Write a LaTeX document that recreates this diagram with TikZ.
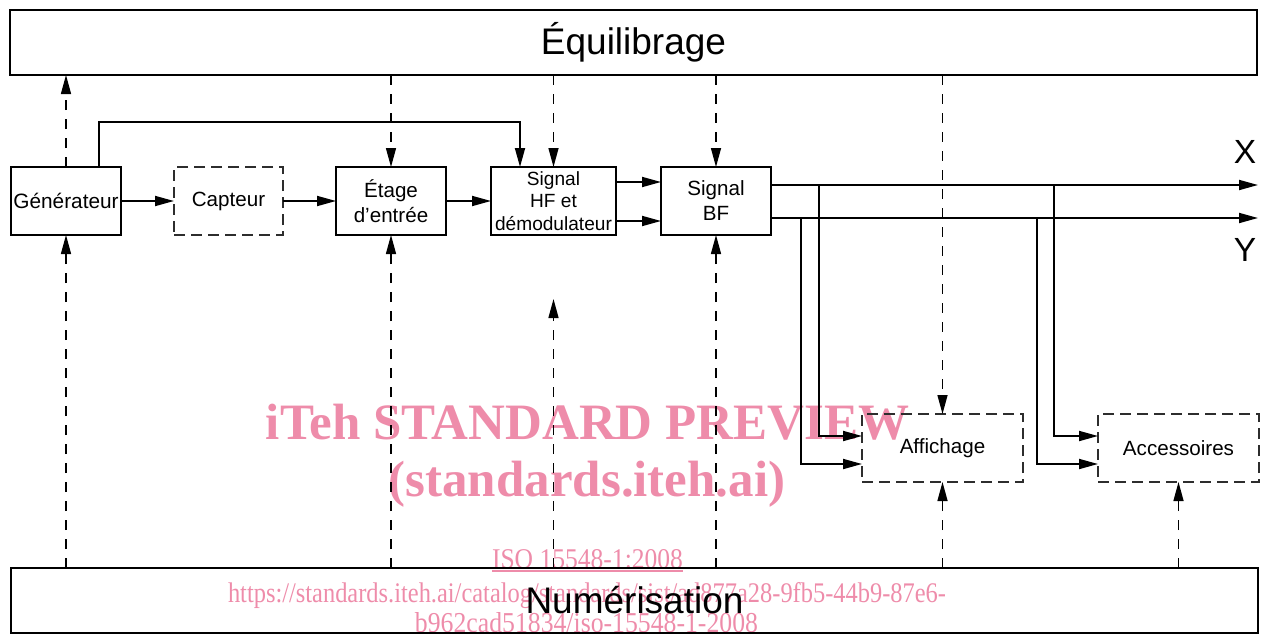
\documentclass[tikz,border=0pt]{standalone}
\usepackage{fontspec}
\setmainfont{Liberation Sans}
\newfontfamily\wmfont{Liberation Serif}
\usetikzlibrary{arrows.meta}
\definecolor{wmpink}{RGB}{238,140,170}
\definecolor{dgray}{RGB}{45,45,45}
\tikzset{
  blk/.style={draw, line width=2.4pt, minimum width=110pt, minimum height=68pt, inner sep=0pt, outer sep=0pt, align=center, font=\fontsize{20.6}{25}\selectfont},
  dblk/.style={blk, draw=dgray, line width=1.4pt, dash pattern=on 11pt off 6pt},
  bigbox/.style={draw, line width=2.5pt, minimum width=1247pt, minimum height=65pt, inner sep=0pt, outer sep=0pt},
  sarrow/.style={line width=1.8pt, -{Triangle[length=19pt,width=10pt]}},
  darrow/.style={line width=1.4pt, dash pattern=on 10pt off 9pt, -{Triangle[length=19pt,width=10pt]}},
  wm/.style={text=wmpink, inner sep=0pt, font=\wmfont\bfseries\fontsize{51}{51}\selectfont},
  wmsmall/.style={text=wmpink, inner sep=0pt, font=\wmfont\fontsize{26}{26}\selectfont},
  lbl/.style={inner sep=0pt, font=\fontsize{33.5}{40}\selectfont}
}
\begin{document}
\begin{tikzpicture}[x=1pt,y=-1pt]
\useasboundingbox (0,0) rectangle (1264,635);
% watermark
\node[wm, anchor=base] (wm1) at (587.5,439) {iTeh STANDARD PREVIEW};
\node[wm, anchor=base] (wm2) at (587,496) {(standards.iteh.ai)};
\node[wmsmall, anchor=base] (wm3) at (587.5,568) {\resizebox{191pt}{19pt}{ISO 15548-1:2008}};
\draw[wmpink, line width=1.5pt] (wm3.base west) ++(0,3) -- ++(191,0);
\node[wmsmall, anchor=base] (wm4) at (587,602) {\resizebox{718pt}{20pt}{https://standards.iteh.ai/catalog/standards/sist/ad877a28-9fb5-44b9-87e6-}};
\node[wmsmall, anchor=base] (wm5) at (586.5,632) {\resizebox{343pt}{20pt}{b962cad51834/iso-15548-1-2008}};

% big boxes
\node[bigbox, font=\fontsize{37}{42}\selectfont] (equ) at (633.5,42.5) {Équilibrage};
\node[bigbox, font=\fontsize{37}{42}\selectfont] (num) at (634.5,600.5) {Numérisation};

% blocks
\node[blk, font=\fontsize{20.8}{25}\selectfont] (gen) at (66,201) {Générateur};
\node[dblk, minimum width=109pt] (cap) at (228.5,201) {Capteur};
\node[blk] (eta) at (391,201) {Étage\\d'entrée};
\node[blk, minimum width=125pt, font=\fontsize{19.1}{22.5}\selectfont] (hf) at (553.5,201) {Signal\\HF et\\démodulateur};
\node[blk] (bf) at (716,201) {Signal\\BF};
\node[dblk, minimum width=161pt] (aff) at (942.5,448) {Affichage};
\node[dblk, minimum width=161pt] (acc) at (1178.5,448) {Accessoires};

% labels
\node[lbl] (xl) at (1245,152) {X};
\node[lbl] (yl) at (1245,250) {Y};

% signal chain
\draw[sarrow] (gen.east) -- (cap.west);
\draw[sarrow] (cap.east) -- (eta.west);
\draw[sarrow] (eta.east) -- (hf.west);
\draw[sarrow] ([yshift=19pt]hf.east) -- ([yshift=19pt]bf.west);
\draw[sarrow] ([yshift=-20pt]hf.east) -- ([yshift=-20pt]bf.west);
\draw[sarrow] ([xshift=33pt]gen.north) -- ++(0,-45) -| ([xshift=-33.5pt]hf.north);

% outputs
\coordinate (xout) at (1258,185);
\coordinate (yout) at (1258,218);
\draw[sarrow] ([yshift=16pt]bf.east) -- (xout);
\draw[sarrow] ([yshift=-17pt]bf.east) -- (yout);
\coordinate (xb1) at (819,185);
\coordinate (yb1) at (801,218);
\coordinate (xb2) at (1054,185);
\coordinate (yb2) at (1037,218);
\draw[sarrow] (xb1) |- ([yshift=12pt]aff.west);
\draw[sarrow] (yb1) |- ([yshift=-16pt]aff.west);
\draw[sarrow] (xb2) |- ([yshift=12pt]acc.west);
\draw[sarrow] (yb2) |- ([yshift=-16pt]acc.west);

% control (dashed)
\draw[darrow] (gen.north) -- (gen.north |- equ.south);
\draw[darrow] (eta.north |- equ.south) -- (eta.north);
\draw[darrow] (hf.north |- equ.south) -- (hf.north);
\draw[darrow] (bf.north |- equ.south) -- (bf.north);
\draw[darrow] (aff.north |- equ.south) -- (aff.north);

\coordinate (hffree) at (553.5,299);
\draw[darrow] (gen.south |- num.north) -- (gen.south);
\draw[darrow] (eta.south |- num.north) -- (eta.south);
\draw[darrow] (hf.south |- num.north) -- (hffree);
\draw[darrow] (bf.south |- num.north) -- (bf.south);
\draw[darrow] (aff.south |- num.north) -- (aff.south);
\draw[darrow] (acc.south |- num.north) -- (acc.south);
\end{tikzpicture}
\end{document}
